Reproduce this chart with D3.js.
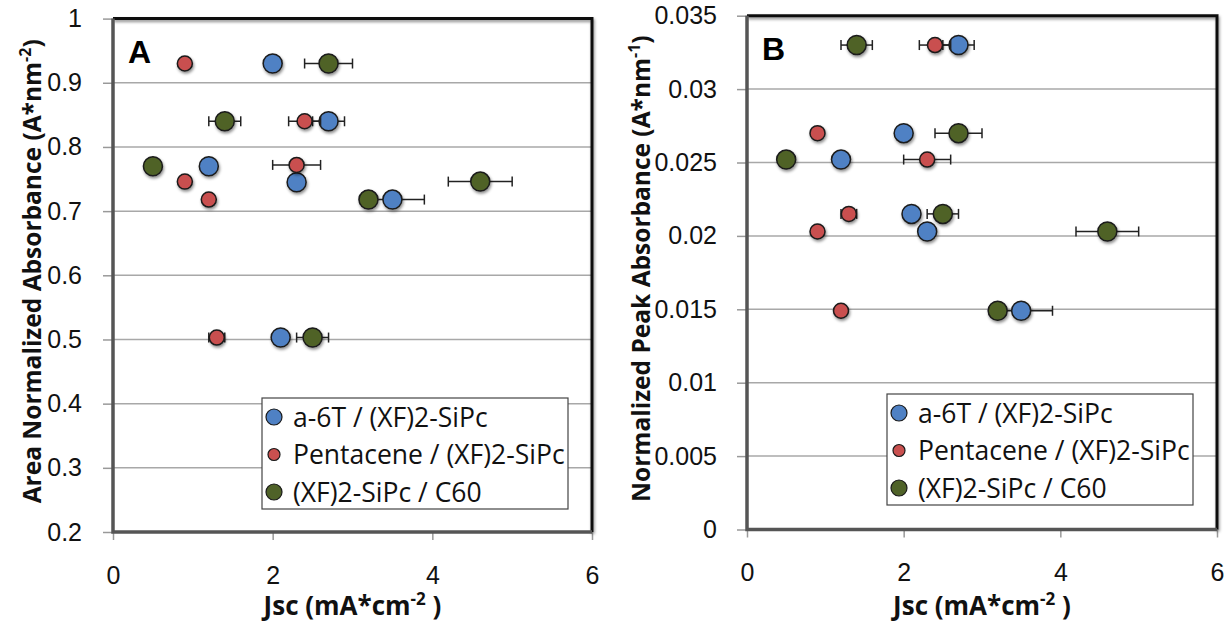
<!DOCTYPE html>
<html>
<head>
<meta charset="utf-8">
<script src="https://cdn.jsdelivr.net/npm/d3@7"></script>
<style>
  body { margin: 0; background: #fff; }
  svg { display: block; font-family: "Open Sans", sans-serif; }
  .tick-label { font-size: 25px; fill: #111; }
  .axis-title { font-weight: bold; fill: #111; }
  .legend-text { font-size: 26.5px; fill: #111; }
  .panel-letter { font-family: "Liberation Sans", Arial, sans-serif; font-size: 32px; font-weight: bold; }
</style>
</head>
<body>
<svg id="chart" width="1231" height="625"></svg>
<script>
const seriesNames = ["a-6T / (XF)2-SiPc", "Pentacene / (XF)2-SiPc", "(XF)2-SiPc / C60"];
const seriesColors = ["#4f81c4", "#c9504f", "#4f6228"];
const markerRadius = [9.5, 7.5, 9.5];

// Jsc (mA/cm2) and its error, same devices in both panels
const jscBlue = [2.0, 2.7, 1.2, 2.3, 3.5, 2.1];
const jscRed = [0.9, 2.4, 2.3, 0.9, 1.2, 1.3];
const jscGreen = [2.7, 1.4, 0.5, 4.6, 3.2, 2.5];
const errBlue = [0.05, 0.2, 0.05, 0.1, 0.4, 0.05];
const errRed = [0.05, 0.2, 0.3, 0.05, 0.05, 0.1];
const errGreen = [0.3, 0.2, 0.05, 0.4, 0.1, 0.2];

// panel A: area normalized absorbance
const areaBlue = [0.93, 0.84, 0.77, 0.745, 0.718, 0.503];
const areaRed = [0.93, 0.84, 0.772, 0.746, 0.718, 0.503];
const areaGreen = [0.93, 0.84, 0.77, 0.746, 0.718, 0.503];

// panel B: normalized peak absorbance
const peakBlue = [0.027, 0.033, 0.0252, 0.0203, 0.0149, 0.0215];
const peakRed = [0.027, 0.033, 0.0252, 0.0203, 0.0149, 0.0215];
const peakGreen = [0.027, 0.033, 0.0252, 0.0203, 0.0149, 0.0215];

const xTicks = [0, 2, 4, 6];
const yTicksA = [0.2, 0.3, 0.4, 0.5, 0.6, 0.7, 0.8, 0.9, 1];
const yTicksB = [0, 0.005, 0.01, 0.015, 0.02, 0.025, 0.03, 0.035];

const svg = d3.select("#chart");

const defs = svg.append("defs");
defs.append("filter")
  .attr("id", "shadow")
  .attr("x", "-50%").attr("y", "-50%").attr("width", "200%").attr("height", "200%")
  .append("feDropShadow")
  .attr("dx", 1).attr("dy", 2).attr("stdDeviation", 1.4)
  .attr("flood-color", "#000").attr("flood-opacity", 0.45);

function pairs(xs, ys, errs) {
  return xs.map((x, i) => ({ x, y: ys[i], err: errs[i] }));
}

function renderPanel(opts) {
  const { left, right, top, bottom, yDomain, yTicks, letter, yTitle, ySup, series, legend } = opts;
  const x = d3.scaleLinear().domain([0, 6]).range([left, right]);
  const y = d3.scaleLinear().domain(yDomain).range([bottom, top]);
  const g = svg.append("g");

  // grid
  g.append("g")
    .selectAll("line")
    .data(yTicks.filter((d) => d > yDomain[0] && d < yDomain[1]))
    .join("line")
    .attr("x1", left).attr("x2", right)
    .attr("y1", (d) => y(d)).attr("y2", (d) => y(d))
    .attr("stroke", "#a8a8a8").attr("stroke-width", 1.5);

  // axes
  const gY = g.append("g")
    .attr("transform", `translate(${left},0)`)
    .call(d3.axisLeft(y).tickValues(yTicks).tickFormat((d) => String(+d.toFixed(4))).tickSize(10).tickPadding(opts.yPad));
  const gX = g.append("g")
    .attr("transform", `translate(0,${bottom})`)
    .call(d3.axisBottom(x).tickValues(xTicks).tickFormat(d3.format("d")).tickSize(8).tickPadding(31));
  [gY, gX].forEach((a) => {
    a.select(".domain").remove();
    a.selectAll(".tick line").attr("stroke", "#999").attr("stroke-width", 1.5);
    a.selectAll(".tick text").attr("class", "tick-label").attr("font-size", null).attr("font-family", null).attr("fill", null);
  });
  gX.selectAll(".tick text").attr("dy", "0.5em");

  // frame
  g.append("path")
    .attr("d", `M${left},${top} H${right} V${bottom}`)
    .attr("fill", "none").attr("stroke", "#111").attr("stroke-width", 3)
    .attr("filter", "url(#shadow)");
  g.append("path")
    .attr("d", `M${left},${top} V${bottom} H${right}`)
    .attr("fill", "none").attr("stroke", "#555").attr("stroke-width", 3.5);

  // titles
  const yt = g.append("text")
    .attr("class", "axis-title")
    .attr("font-size", 24.5)
    .attr("text-anchor", "middle")
    .attr("transform", `translate(${opts.yTitleX},${(top + bottom) / 2 - 4}) rotate(-90)`);
  yt.append("tspan").text(yTitle);
  yt.append("tspan").attr("dy", -10).attr("font-size", 16).text(ySup);
  yt.append("tspan").attr("dy", 10).text(")");

  const xt = g.append("text")
    .attr("class", "axis-title")
    .attr("font-size", 26)
    .attr("text-anchor", "middle")
    .attr("x", (left + right) / 2)
    .attr("y", 615);
  xt.append("tspan").text("Jsc (mA*cm");
  xt.append("tspan").attr("dy", -10).attr("font-size", 17).text("-2");
  xt.append("tspan").attr("dy", 10).text(" )");

  g.append("text")
    .attr("class", "panel-letter")
    .attr("x", left + 15).attr("y", top + 44)
    .text(letter);

  // points with x error bars
  series.forEach((s, si) => {
    const gs = g.append("g");
    const bars = gs.selectAll(".err")
      .data(s)
      .join("g")
      .attr("stroke", "#222").attr("stroke-width", 1.5);
    bars.append("line")
      .attr("x1", (d) => x(d.x - d.err)).attr("x2", (d) => x(d.x + d.err))
      .attr("y1", (d) => y(d.y)).attr("y2", (d) => y(d.y));
    bars.append("line")
      .attr("x1", (d) => x(d.x - d.err)).attr("x2", (d) => x(d.x - d.err))
      .attr("y1", (d) => y(d.y) - 5).attr("y2", (d) => y(d.y) + 5);
    bars.append("line")
      .attr("x1", (d) => x(d.x + d.err)).attr("x2", (d) => x(d.x + d.err))
      .attr("y1", (d) => y(d.y) - 5).attr("y2", (d) => y(d.y) + 5);
    gs.selectAll("circle")
      .data(s)
      .join("circle")
      .attr("cx", (d) => x(d.x)).attr("cy", (d) => y(d.y))
      .attr("r", markerRadius[si])
      .attr("fill", seriesColors[si])
      .attr("stroke", "#1a1a1a").attr("stroke-width", 1.5)
      .attr("filter", "url(#shadow)");
  });

  // legend
  const lg = g.append("g").attr("transform", `translate(${legend.x},${legend.y})`);
  lg.append("rect")
    .attr("width", legend.w).attr("height", legend.h)
    .attr("fill", "#fff").attr("stroke", "#444").attr("stroke-width", 1.2);
  const rows = lg.selectAll(".row")
    .data(seriesNames)
    .join("g")
    .attr("transform", (d, i) => `translate(0,${19 + i * 37.5})`);
  rows.append("circle")
    .attr("cx", 12).attr("cy", 0)
    .attr("r", (d, i) => markerRadius[i] - 1.5)
    .attr("fill", (d, i) => seriesColors[i])
    .attr("stroke", "#1a1a1a").attr("stroke-width", 1.2);
  rows.append("text")
    .attr("class", "legend-text")
    .attr("x", 31).attr("dy", "0.36em")
    .text((d) => d);
}

renderPanel({
  left: 113, right: 592, top: 18.6, bottom: 532,
  yDomain: [0.2, 1], yTicks: yTicksA, yPad: 21,
  letter: "A", yTitle: "Area Normalized Absorbance (A*nm", ySup: "-2", yTitleX: 41,
  series: [pairs(jscBlue, areaBlue, errBlue), pairs(jscRed, areaRed, errRed), pairs(jscGreen, areaGreen, errGreen)],
  legend: { x: 262, y: 398, w: 306, h: 111 },
});

renderPanel({
  left: 747, right: 1217, top: 15.7, bottom: 529.5,
  yDomain: [0, 0.035], yTicks: yTicksB, yPad: 20,
  letter: "B", yTitle: "Normalized Peak Absorbance (A*nm", ySup: "-1", yTitleX: 650,
  series: [pairs(jscBlue, peakBlue, errBlue), pairs(jscRed, peakRed, errRed), pairs(jscGreen, peakGreen, errGreen)],
  legend: { x: 887, y: 394, w: 306, h: 111 },
});
</script>
</body>
</html>
